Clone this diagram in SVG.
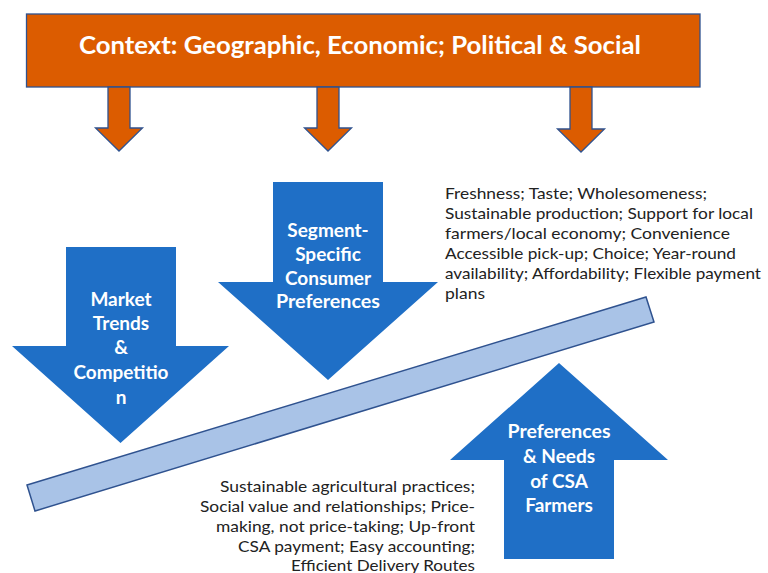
<svg xmlns="http://www.w3.org/2000/svg" width="768" height="573" viewBox="0 0 768 573">
<style>
.ctx{fill:#dc5c00;stroke:#2f528f;stroke-width:1.3}
.blue{fill:#1f6fc6}
.bar{fill:#a9c3e7;stroke:#2f528f;stroke-width:1.5}
.lbl{font-family:Lato,"Open Sans","Liberation Sans",sans-serif;font-weight:bold;fill:#ffffff;text-anchor:middle}
.body{font-family:Lato,"Open Sans","Liberation Sans",sans-serif;font-size:16px;fill:#222222}
</style>
<rect width="768" height="573" fill="#ffffff"/>
<g id="banner">
<rect class="ctx" x="26.5" y="14" width="673.5" height="73"/>
<text class="lbl" x="360" y="54" font-size="24" textLength="562" lengthAdjust="spacingAndGlyphs">Context: Geographic, Economic; Political &amp; Social</text>
</g>
<g id="connectors">
<path class="ctx" d="M108,87 H130 V128 H142.5 L119,151 L95.5,128 H108 Z"/>
<path class="ctx" d="M317,87 H339 V128 H351.5 L328,151 L304.5,128 H317 Z"/>
<path class="ctx" d="M570,87 H592 V129 H604.5 L581,152 L557.5,129 H570 Z"/>
</g>
<g id="trend-bar">
<path class="bar" d="M27,485 L646,297 L654,322 L35,511 Z"/>
</g>
<g id="market">
<path class="blue" d="M66,247 H176 V346 H229 L120.5,443 L12,346 H66 Z"/>
<text class="lbl" font-size="19"><tspan x="121" y="306">Market</tspan><tspan x="121" y="330">Trends</tspan><tspan x="121" y="354">&amp;</tspan><tspan x="121" y="379" textLength="95" lengthAdjust="spacingAndGlyphs">Competitio</tspan><tspan x="121" y="404">n</tspan></text>
</g>
<g id="segment">
<path class="blue" d="M273,182 H383 V282 H438 L328,380 L218,282 H273 Z"/>
<text class="lbl" font-size="19"><tspan x="328" y="237">Segment-</tspan><tspan x="328" y="261">Specific</tspan><tspan x="328" y="285">Consumer</tspan><tspan x="328" y="308" textLength="104" lengthAdjust="spacingAndGlyphs">Preferences</tspan></text>
</g>
<g id="farmers">
<path class="blue" d="M504,559 H614 V460 H668 L559,363 L450,460 H504 Z"/>
<text class="lbl" font-size="19"><tspan x="559" y="438" textLength="103" lengthAdjust="spacingAndGlyphs">Preferences</tspan><tspan x="559" y="463">&amp; Needs</tspan><tspan x="559" y="488">of CSA</tspan><tspan x="559" y="512">Farmers</tspan></text>
</g>
<g id="consumer-text">
<text class="body"><tspan x="445" y="199" textLength="262" lengthAdjust="spacingAndGlyphs">Freshness; Taste; Wholesomeness;</tspan><tspan x="445" y="219" textLength="308" lengthAdjust="spacingAndGlyphs">Sustainable production; Support for local</tspan><tspan x="445" y="239" textLength="285" lengthAdjust="spacingAndGlyphs">farmers/local economy;  Convenience</tspan><tspan x="445" y="259" textLength="291" lengthAdjust="spacingAndGlyphs">Accessible pick-up; Choice; Year-round</tspan><tspan x="445" y="279" textLength="316" lengthAdjust="spacingAndGlyphs">availability; Affordability; Flexible payment</tspan><tspan x="445" y="299" textLength="40" lengthAdjust="spacingAndGlyphs">plans</tspan></text>
</g>
<g id="farmer-text">
<text class="body"><tspan x="220" y="492" textLength="255" lengthAdjust="spacingAndGlyphs">Sustainable agricultural practices;</tspan><tspan x="200" y="512" textLength="275" lengthAdjust="spacingAndGlyphs">Social value and relationships; Price-</tspan><tspan x="216" y="532" textLength="259" lengthAdjust="spacingAndGlyphs">making, not price-taking; Up-front</tspan><tspan x="238" y="552" textLength="237" lengthAdjust="spacingAndGlyphs">CSA payment; Easy accounting;</tspan><tspan x="291" y="571" textLength="184" lengthAdjust="spacingAndGlyphs">Efficient Delivery Routes</tspan></text>
</g>
</svg>
